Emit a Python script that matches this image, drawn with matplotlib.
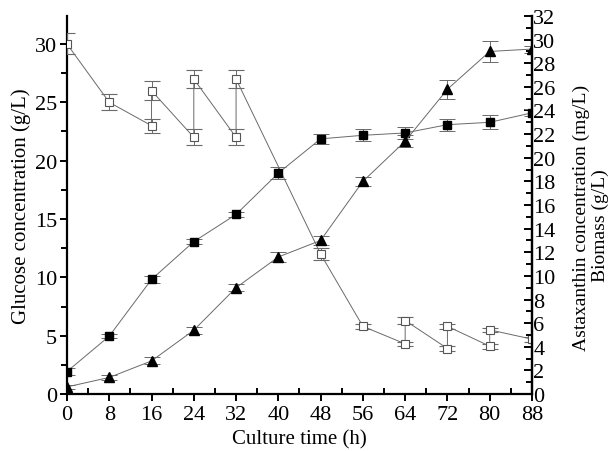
import numpy as np
import matplotlib.pyplot as plt
from matplotlib.ticker import MultipleLocator

plt.rcParams["font.family"] = ["Liberation Serif", "DejaVu Serif"]

# ── Data ───────────────────────────────────────────────────────────────────────
# glucose (left axis): fed-batch sawtooth, repeated times = before / after feeding
glu_t   = [0, 8, 16, 16, 24, 24, 32, 32, 48, 56, 64, 64, 72, 72, 80, 80, 88]
glu_v   = [30, 25, 23, 26, 22, 27, 22, 27, 12, 5.8, 4.3, 6.3, 3.9, 5.8, 4.1, 5.5, 4.7]
glu_err = [0.9, 0.7, 0.6, 0.8, 0.7, 0.8, 0.7, 0.8, 0.5, 0.2, 0.2, 0.3, 0.2, 0.2, 0.2, 0.2, 0.2]

time     = [0, 8, 16, 24, 32, 40, 48, 56, 64, 72, 80, 88]
# biomass (g/L), right axis, filled squares
bio_v    = [1.9, 4.9, 9.7, 12.9, 15.2, 18.7, 21.6, 21.9, 22.1, 22.8, 23.0, 23.8]
bio_err  = [0.3, 0.2, 0.3, 0.2, 0.2, 0.5, 0.4, 0.5, 0.5, 0.5, 0.6, 0.3]
# astaxanthin (mg/L), right axis, filled triangles
asta_v   = [0.6, 1.4, 2.8, 5.4, 9.0, 11.6, 13.0, 18.0, 21.4, 25.8, 29.0, 29.2]
asta_err = [0.2, 0.2, 0.3, 0.3, 0.3, 0.4, 0.4, 0.4, 0.5, 0.8, 0.9, 0.3]

LINE_KW = dict(color="#6a6a6a", linewidth=0.7, capsize=6, elinewidth=0.7,
               ecolor="#6a6a6a", capthick=0.7)

# ── Figure ─────────────────────────────────────────────────────────────────────
fig = plt.figure(figsize=(6.10, 4.52), dpi=100)
ax = fig.add_axes([0.1098, 0.1261, 0.7623, 0.8363])
ax2 = ax.twinx()

ax.errorbar(glu_t, glu_v, yerr=glu_err, marker="s", markersize=6,
            markerfacecolor="white", markeredgecolor="#555555",
            markeredgewidth=0.8, zorder=3, **LINE_KW)

ax2.errorbar(time, bio_v, yerr=bio_err, marker="s", markersize=6,
             markerfacecolor="black", markeredgecolor="black", zorder=3, **LINE_KW)
ax2.errorbar(time, asta_v, yerr=asta_err, marker="^", markersize=7.5,
             markerfacecolor="black", markeredgecolor="black", zorder=3, **LINE_KW)

# ── Axes styling ───────────────────────────────────────────────────────────────
ax.set_xlim(0, 88)
ax.set_ylim(0, 32.4)
ax2.set_ylim(0, 32)

ax.xaxis.set_major_locator(MultipleLocator(8))
ax.xaxis.set_minor_locator(MultipleLocator(4))
ax.yaxis.set_major_locator(MultipleLocator(5))
ax.yaxis.set_minor_locator(MultipleLocator(2.5))
ax2.yaxis.set_major_locator(MultipleLocator(2))
ax2.yaxis.set_minor_locator(MultipleLocator(1))

for a in (ax, ax2):
    a.spines["top"].set_visible(False)
    for s in a.spines.values():
        s.set_linewidth(1.6)

ax.tick_params(axis="x", which="major", direction="out", length=5, width=1.4,
               labelsize=16, pad=3)
ax.tick_params(axis="x", which="minor", direction="in", length=4, width=1.4)
ax.tick_params(axis="y", which="major", direction="out", length=5, width=1.4,
               labelsize=16, pad=2)
ax.tick_params(axis="y", which="minor", direction="out", length=4, width=1.4)
ax2.tick_params(axis="y", which="major", direction="in", length=6, width=1.4,
                labelsize=16, pad=1)
ax2.tick_params(axis="y", which="minor", direction="in", length=4, width=1.4)
ax2.spines["left"].set_visible(False)
ax2.spines["bottom"].set_visible(False)

ax.set_xlabel("Culture time (h)", fontsize=15, labelpad=4)
ax.set_ylabel("Glucose concentration (g/L)", fontsize=15, labelpad=3)

# right-hand axis title: two rotated lines
fig.text(581 / 610, 1 - 218 / 452, "Astaxanthin concentration (mg/L)",
         rotation=90, ha="center", va="center", fontsize=14)
fig.text(600 / 610, 1 - 226 / 452, "Biomass (g/L)",
         rotation=90, ha="center", va="center", fontsize=14)

fig.savefig("out.png", dpi=100)
